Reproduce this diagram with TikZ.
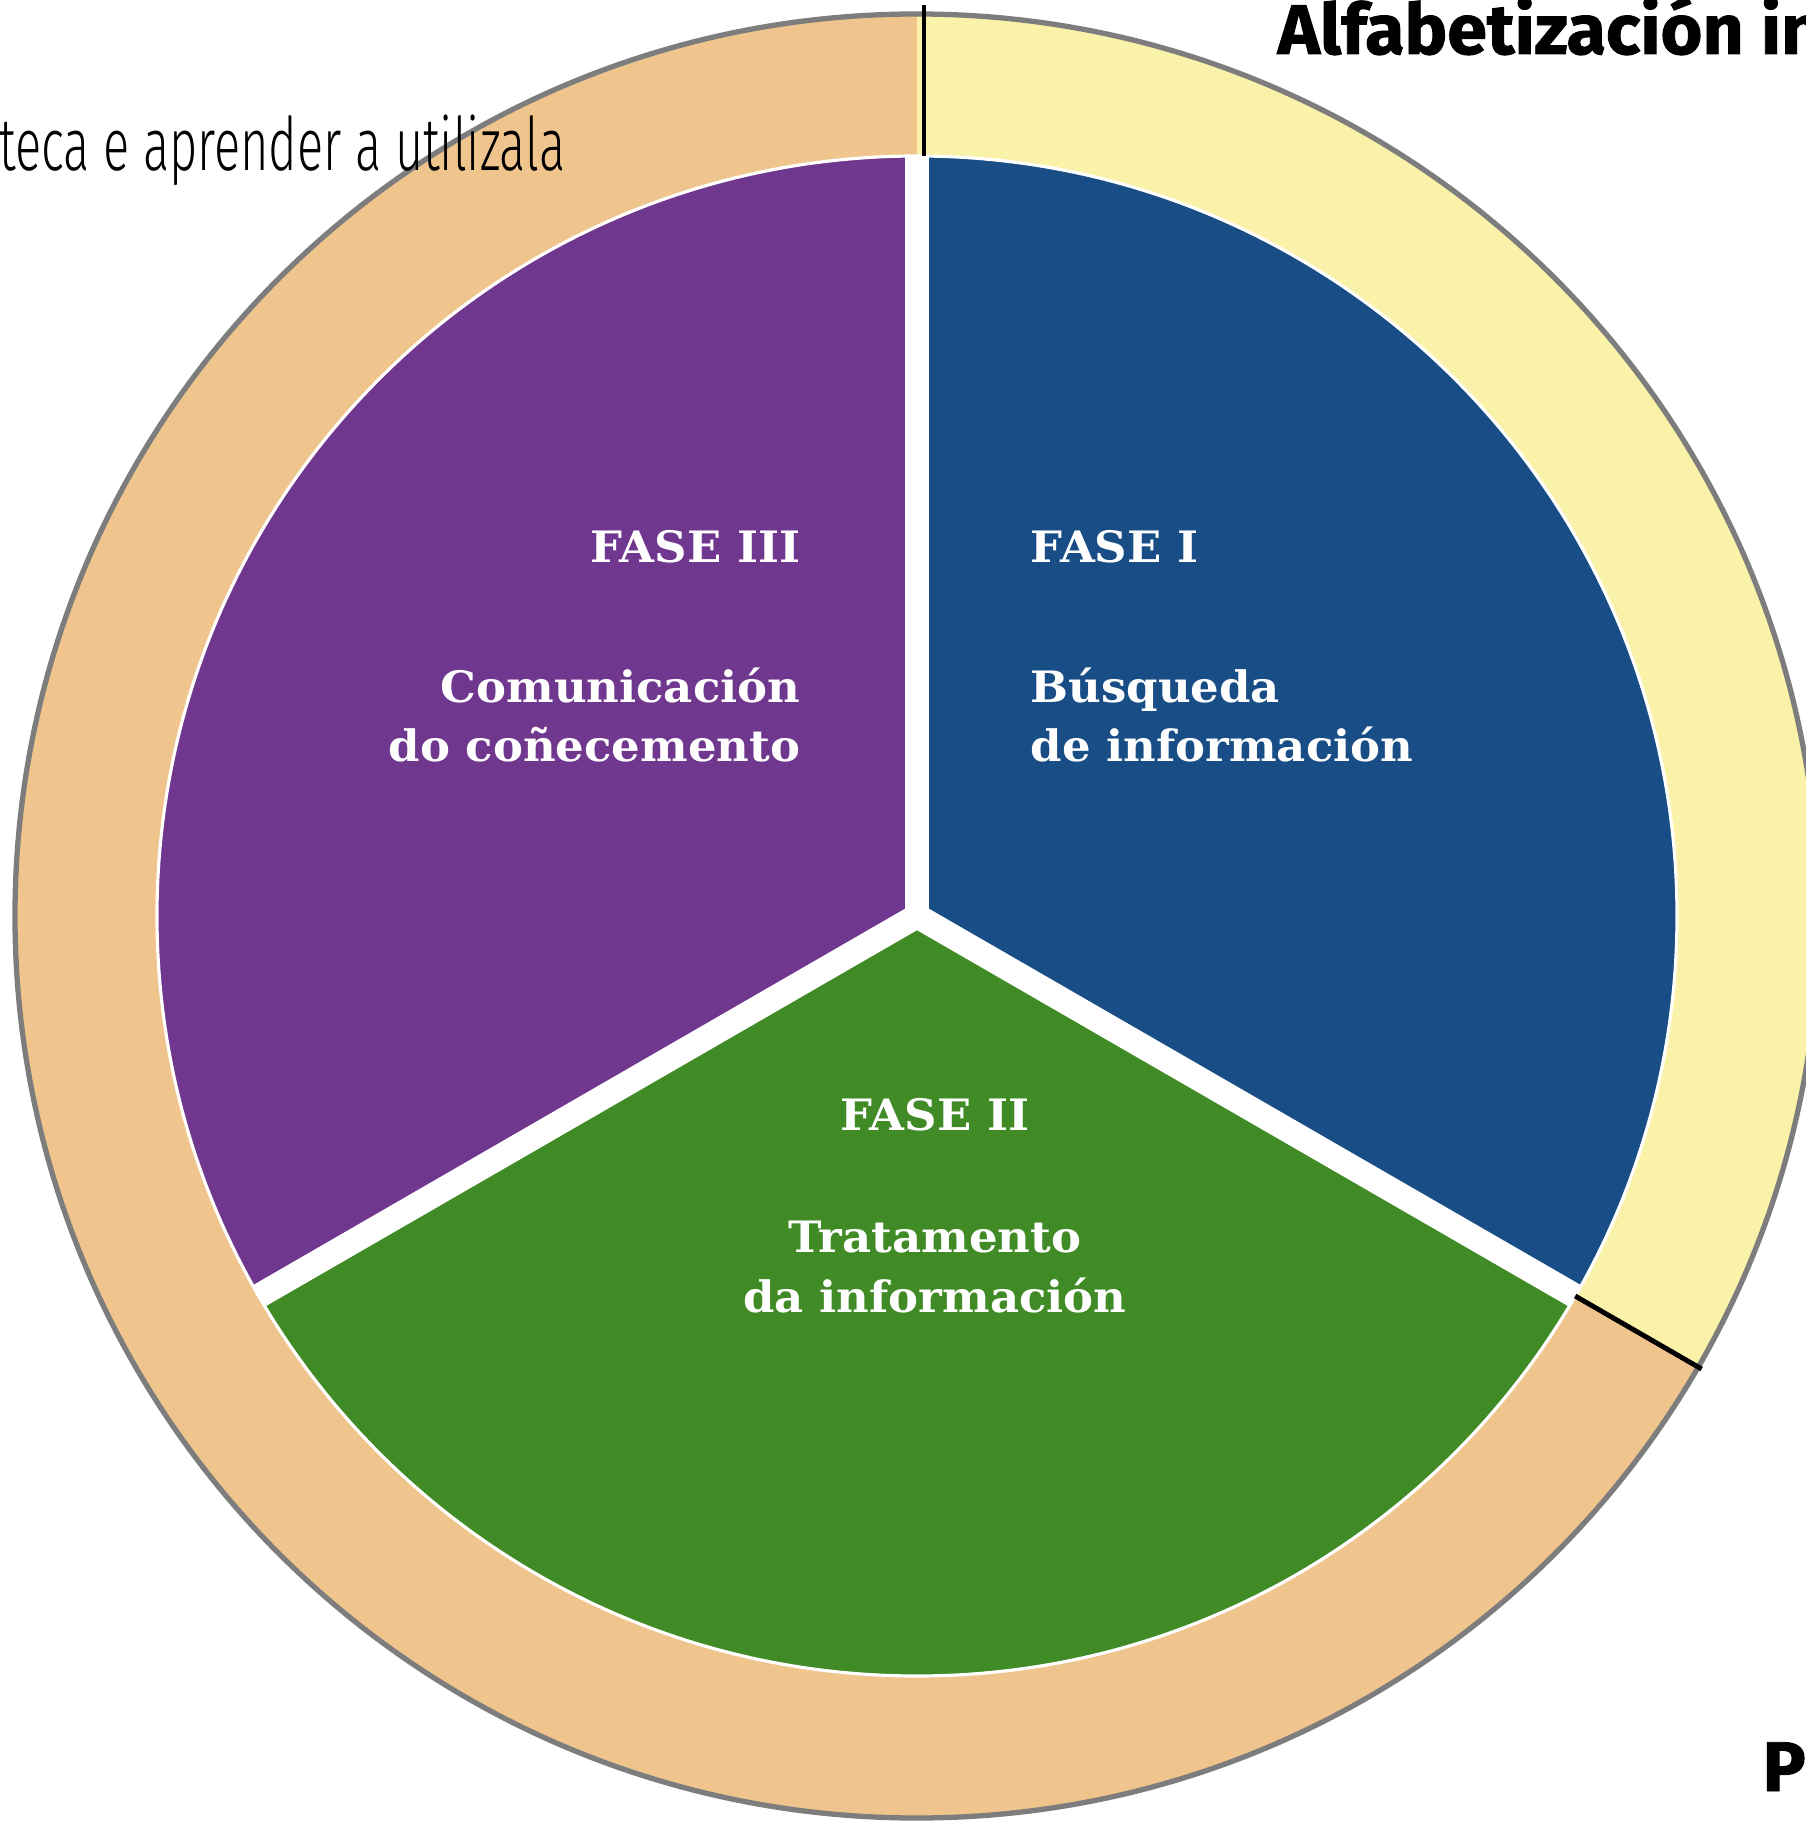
\documentclass[tikz,border=0pt]{standalone}
\usepackage{fontspec}
\setmainfont[FakeStretch=1.04]{DejaVu Serif}
\newfontfamily\headfont[FakeStretch=1.02, FakeBold=1.2]{Fira Sans}
\newfontfamily\thinfont[FakeStretch=0.66]{Fira Sans Light}
\definecolor{faseone}{RGB}{24,77,133}
\definecolor{fasetwo}{RGB}{64,139,37}
\definecolor{fasethree}{RGB}{112,55,142}
\definecolor{ringorange}{RGB}{240,197,141}
\definecolor{ringyellow}{RGB}{249,242,168}
\definecolor{ringgray}{RGB}{125,125,125}
\begin{document}
\begin{tikzpicture}[x=0.01cm, y=0.01cm,
    fase/.style={text=white, inner sep=0pt, font=\fontsize{12.3}{16.8}\selectfont\bfseries},
    head/.style={inner sep=0pt, font=\headfont\fontsize{20}{24}\selectfont\bfseries},
    gap/.style={white, line width=7pt},
    divider/.style={black, line width=1.4pt}]
        \clip (-917,-905) rectangle (889,916);

        % Ring
        \fill[ringorange] (0,0) circle (902);
        \fill[ringyellow] (0,0) -- (90:902) arc (90:-30:902) -- cycle;
        \draw[ringgray, line width=1.5pt] (0,0) circle (902);

        % Sectors
        \fill[faseone] (0,0) -- (90:760) arc (90:-30:760) -- cycle;
        \fill[fasetwo] (0,0) -- (-30:760) arc (-30:-150:760) -- cycle;
        \fill[fasethree] (0,0) -- (210:760) arc (210:90:760) -- cycle;
        \draw[white, line width=0.9pt] (0,0) circle (760);

        % Coordinates
        \coordinate (c) at (0,0);
        \coordinate (p1) at (90:760);
        \coordinate (p2) at (-30:760);
        \coordinate (p3) at (210:760);
        \coordinate (q1) at (7,760);
        \coordinate (r1) at (7,911);
        \coordinate (r2) at (-30:906);

        % Gaps
        \draw[gap] (c) -- (p1);
        \draw[gap] (c) -- (p2);
        \draw[gap] (c) -- (p3);

        % Ring dividers
        \draw[divider] (q1) -- (r1);
        \draw[divider] (p2) -- (r2);

        % Nodes
        \node[fase, anchor=base west] at (113,353) (f1) {FASE I};
        \node[fase, anchor=base west, align=left] at (113,154) (t1) {Búsqueda\\de información};
        \node[fase, anchor=base] at (18,-214) (f2) {FASE II};
        \node[fase, anchor=base, align=center] at (18,-396) (t2) {Tratamento\\da información};
        \node[fase, anchor=base east] at (-116,353) (f3) {FASE III};
        \node[fase, anchor=base east, align=right] at (-116,154) (t3) {Comunicación\\do coñecemento};

        \node[head, anchor=base west] at (360,862) (title) {Alfabetización in};
        \node[head, anchor=base west] at (845,-875) (pr) {Pr};
        \node[inner sep=0pt, anchor=base east, font=\thinfont\fontsize{21}{24}\selectfont] at (-351,745) (lib) {teca e aprender a utilizala};
\end{tikzpicture}
\end{document}
